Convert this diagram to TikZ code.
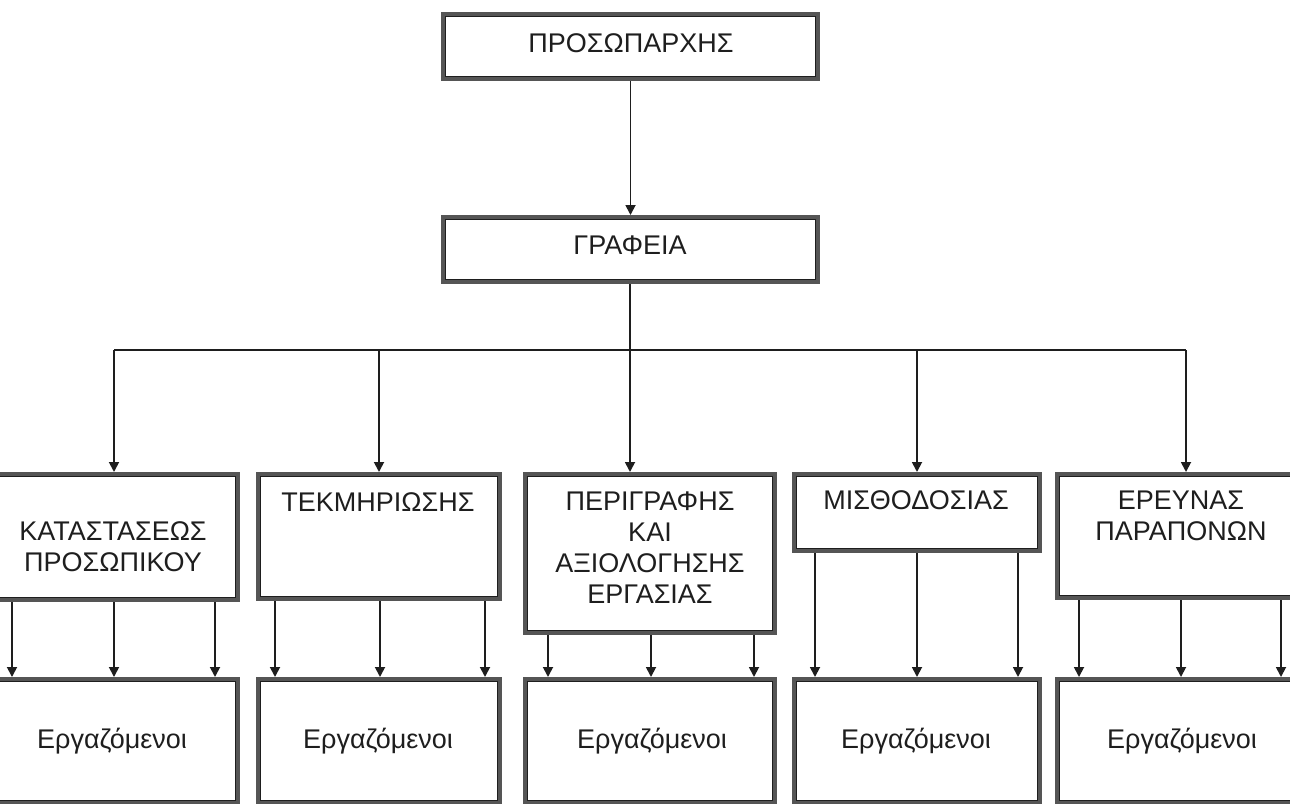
\documentclass[tikz,border=0pt]{standalone}
\usepackage{fontspec}
\setmainfont{Liberation Sans}
\usetikzlibrary{arrows.meta}
\definecolor{band}{HTML}{555555}
\definecolor{ink}{HTML}{1E1E1E}
\tikzset{
  box/.style={draw=band, line width=5pt, fill=white, inner sep=0pt, rectangle},
  innerline/.style={draw=ink, line width=1.4pt},
  conn/.style={draw=ink, line width=1.8pt},
  arr/.style={conn, -{Triangle[length=10pt,width=10pt]}},
  lbl/.style={text=ink, font=\fontsize{27}{31}\selectfont, align=center, inner sep=0pt},
}
\newcommand{\mkbox}[5]{% name, x1, y1, x2, y2 (outer edges)
  \node[box, minimum width={#4-#2-5pt}, minimum height={#5-#3-5pt}] (#1) at ({(#2+#4)/2},{(#3+#5)/2}) {};
}
\begin{document}
\begin{tikzpicture}[x=1pt,y=-1pt]
\useasboundingbox (0,0) rectangle (1290,803);
% boxes
\mkbox{top}{441}{12}{820}{81}
\mkbox{graf}{441}{215}{820}{284}
\mkbox{b1}{-12}{472}{240}{602}
\mkbox{b2}{256}{472}{502}{601}
\mkbox{b3}{523}{472}{777}{635}
\mkbox{b4}{792}{472}{1042}{553}
\mkbox{b5}{1055}{472}{1317}{600}
\mkbox{l1}{-12}{677}{240}{805}
\mkbox{l2}{256}{677}{502}{805}
\mkbox{l3}{523}{677}{777}{805}
\mkbox{l4}{792}{677}{1042}{805}
\mkbox{l5}{1055}{677}{1317}{805}
\foreach \n in {top,graf,b1,b2,b3,b4,b5,l1,l2,l3,l4,l5}
  \draw[innerline] ([shift={(4.3pt,-4.3pt)}]\n.north west) rectangle ([shift={(-4.3pt,4.3pt)}]\n.south east);
% labels
\node[lbl] (ttop) at (631,43) {ΠΡΟΣΩΠΑΡΧΗΣ};
\node[lbl] (tgraf) at (630,245) {ΓΡΑΦΕΙΑ};
\node[lbl] (tb1) at (113,547) {ΚΑΤΑΣΤΑΣΕΩΣ\\ΠΡΟΣΩΠΙΚΟΥ};
\node[lbl] (tb2) at (378,502) {ΤΕΚΜΗΡΙΩΣΗΣ};
\node[lbl] (tb3) at (650,548) {ΠΕΡΙΓΡΑΦΗΣ\\ΚΑΙ\\ΑΞΙΟΛΟΓΗΣΗΣ\\ΕΡΓΑΣΙΑΣ};
\node[lbl] (tb4) at (916,500) {ΜΙΣΘΟΔΟΣΙΑΣ};
\node[lbl] (tb5) at (1181,516) {ΕΡΕΥΝΑΣ\\ΠΑΡΑΠΟΝΩΝ};
\node[lbl, anchor=base] (tl1) at (112,748) {Εργαζόμενοι};
\node[lbl, anchor=base] (tl2) at (378,748) {Εργαζόμενοι};
\node[lbl, anchor=base] (tl3) at (652,748) {Εργαζόμενοι};
\node[lbl, anchor=base] (tl4) at (916,748) {Εργαζόμενοι};
\node[lbl, anchor=base] (tl5) at (1182,748) {Εργαζόμενοι};
% connectors
\coordinate (bus) at (630,350);
\draw[arr] (top.south) -- (graf.north);
\draw[conn] (b1.north |- bus) -- (b5.north |- bus);
\draw[arr] ([xshift=-20pt]b3.north |- graf.south) -- ([xshift=-20pt]b3.north);
\foreach \n in {b1,b2,b4,b5}
  \draw[arr] (\n.north |- bus) -- (\n.north);
% sub-arrows
\foreach \u/\l/\a/\b/\c in {b1/l1/-102/0/101, b2/l2/-104/1/106, b3/l3/-102/1/104, b4/l4/-102/0/101, b5/l5/-107/-5/95}{
  \draw[arr] ([xshift=\a pt]\u.south) -- ([xshift=\a pt]\l.north);
  \draw[arr] ([xshift=\b pt]\u.south) -- ([xshift=\b pt]\l.north);
  \draw[arr] ([xshift=\c pt]\u.south) -- ([xshift=\c pt]\l.north);
}
\end{tikzpicture}
\end{document}
